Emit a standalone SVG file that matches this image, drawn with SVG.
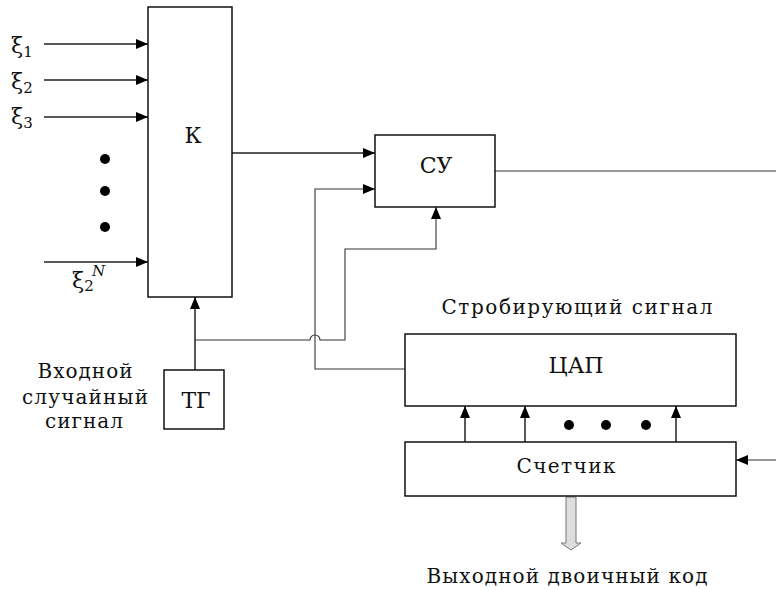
<svg xmlns="http://www.w3.org/2000/svg" width="776" height="590" viewBox="0 0 776 590">
<style>
.box{fill:#fff;stroke:#111;stroke-width:1.5}
.ln{fill:none;stroke:#222;stroke-width:1.5}
.thin{fill:none;stroke:#333;stroke-width:1.1}
.t{font-family:"DejaVu Serif","Liberation Serif",serif;font-size:20px;fill:#111}
.b{font-size:22px}
.c{text-anchor:middle}
.xi{font-family:"DejaVu Serif","Liberation Serif",serif;font-size:22px;fill:#111}
.sub{font-family:"DejaVu Serif","Liberation Serif",serif;font-size:15px;fill:#111}
</style>
<defs>
<marker id="ah" markerUnits="userSpaceOnUse" markerWidth="12" markerHeight="10" refX="12" refY="5" orient="auto">
<path d="M0,0 L12,5 L0,10 z" fill="#000"/>
</marker>
</defs>
<rect width="776" height="590" fill="#fff"/>
<g id="connectors">
<line class="ln" x1="44" y1="44" x2="148" y2="44" marker-end="url(#ah)"/>
<line class="ln" x1="44" y1="80" x2="148" y2="80" marker-end="url(#ah)"/>
<line class="ln" x1="44" y1="117" x2="148" y2="117" marker-end="url(#ah)"/>
<line class="ln" x1="44" y1="262" x2="148" y2="262" marker-end="url(#ah)"/>
<line class="ln" x1="232" y1="153" x2="375" y2="153" marker-end="url(#ah)"/>
<line class="ln" x1="195" y1="370" x2="195" y2="297" marker-end="url(#ah)"/>
<path class="thin" d="M195,340 H310 A5,5 0 0 1 320,340 H345 V249 H436 V207" marker-end="url(#ah)"/>
<path class="thin" d="M406,369 H315 V189 H375" marker-end="url(#ah)"/>
<line class="thin" x1="495" y1="171" x2="776" y2="171"/>
<line class="ln" x1="465" y1="442" x2="465" y2="406" marker-end="url(#ah)"/>
<line class="ln" x1="525" y1="442" x2="525" y2="406" marker-end="url(#ah)"/>
<line class="ln" x1="676" y1="442" x2="676" y2="406" marker-end="url(#ah)"/>
<line class="thin" x1="776" y1="460" x2="736" y2="460" marker-end="url(#ah)"/>
<path d="M566,497 H576 V543 H581 L571,550 L561,543 H566 Z" fill="#ddd" stroke="#777" stroke-width="1"/>
</g>
<g id="K">
<rect class="box" x="148" y="7" width="84" height="290"/>
<text class="t b c" x="193" y="143">К</text>
</g>
<g id="SU">
<rect class="box" x="375" y="135" width="120" height="72"/>
<text class="t b c" x="436" y="173">СУ</text>
</g>
<g id="TG">
<rect class="box" x="164" y="370" width="60" height="59"/>
<text class="t b c" x="196" y="408">ТГ</text>
</g>
<g id="DAC">
<rect class="box" x="405" y="334" width="331" height="72"/>
<text class="t b c" x="576" y="373">ЦАП</text>
</g>
<g id="counter">
<rect class="box" x="405" y="442" width="331" height="54"/>
<text class="t c" x="566" y="473" textLength="99">Счетчик</text>
</g>
<g id="dots">
<circle cx="105" cy="159" r="5"/>
<circle cx="105" cy="191" r="5"/>
<circle cx="105" cy="227" r="5"/>
<circle cx="569" cy="425" r="5"/>
<circle cx="606" cy="425" r="5"/>
<circle cx="646" cy="425" r="5"/>
</g>
<g id="labels">
<text class="xi" x="11" y="53">ξ<tspan class="sub" dy="4">1</tspan></text>
<text class="xi" x="11" y="89">ξ<tspan class="sub" dy="4">2</tspan></text>
<text class="xi" x="11" y="124">ξ<tspan class="sub" dy="4">3</tspan></text>
<text class="xi" x="72" y="288">ξ<tspan class="sub" dy="3">2</tspan></text>
<text class="sub" x="92" y="276" font-size="13" font-style="italic">N</text>
<text class="t c" x="85" y="378" textLength="95">Входной</text>
<text class="t c" x="85" y="404" textLength="126">случайный</text>
<text class="t c" x="84" y="428" textLength="78">сигнал</text>
<text class="t c" x="577" y="314" textLength="271">Стробирующий сигнал</text>
<text class="t c" x="567" y="583" textLength="281">Выходной двоичный код</text>
</g>
</svg>
